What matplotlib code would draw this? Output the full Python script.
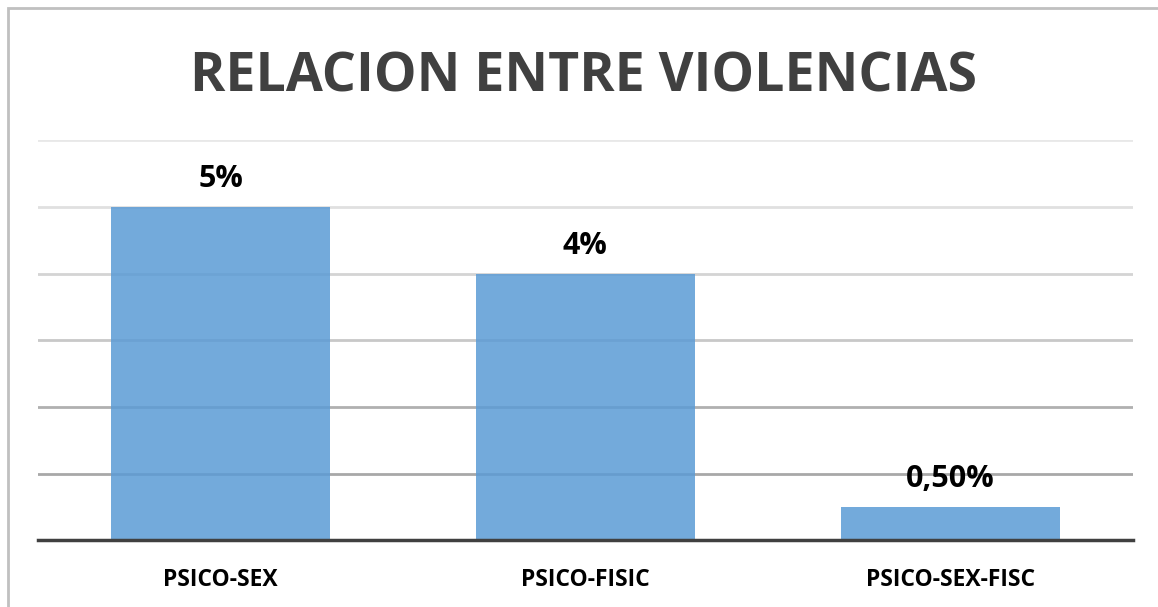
import matplotlib.pyplot as plt
from matplotlib.patches import Rectangle

# datos
categorias = ['PSICO-SEX', 'PSICO-FISIC', 'PSICO-SEX-FISC']
valores = [5, 4, 0.5]
etiquetas = ['5%', '4%', '0,50%']

plt.rcParams['font.family'] = ['Open Sans', 'DejaVu Sans']

fig = plt.figure(figsize=(11.58, 6.07), dpi=100)
ax = fig.add_axes([0.033, 0.110, 0.945, 0.659])

x = range(len(categorias))
barras = ax.bar(x, valores, width=0.6, color='#5B9BD5', alpha=0.85, zorder=3)

# lineas de cuadricula (se aclaran hacia arriba)
grises = ['#a8a8a8', '#b0b0b0', '#c8c8c8', '#d4d4d4', '#e0e0e0', '#e8e8e8']
for nivel, g in zip(range(1, 7), grises):
    ax.axhline(nivel, color=g, linewidth=2, zorder=1)

for b, txt in zip(barras, etiquetas):
    ax.annotate(txt, (b.get_x() + b.get_width() / 2, b.get_height()),
                xytext=(0, 9), textcoords='offset points',
                ha='center', va='bottom', fontsize=22, fontweight='bold',
                color='black')

ax.set_xlim(-0.5, 2.5)
ax.set_ylim(0, 6)
ax.set_xticks(list(x))
ax.set_xticklabels(categorias, fontsize=16.5, fontweight='bold')
ax.tick_params(axis='x', length=0, pad=20)
ax.set_yticks([])
for s in ['top', 'right', 'left']:
    ax.spines[s].set_visible(False)
ax.spines['bottom'].set_color('#404040')
ax.spines['bottom'].set_linewidth(2.5)
ax.spines['bottom'].set_zorder(4)

fig.text(0.504, 0.872, 'RELACION ENTRE VIOLENCIAS', ha='center', va='center',
         fontsize=38.6, fontweight='bold', color='#404040')

# marco del grafico
fig.patches.append(Rectangle((8 / 1158, -0.1), 1.2, 1.1 - 8 / 607,
                             transform=fig.transFigure, fill=False,
                             edgecolor='#c0c0c0', linewidth=2))

plt.savefig('out.png', dpi=100)
